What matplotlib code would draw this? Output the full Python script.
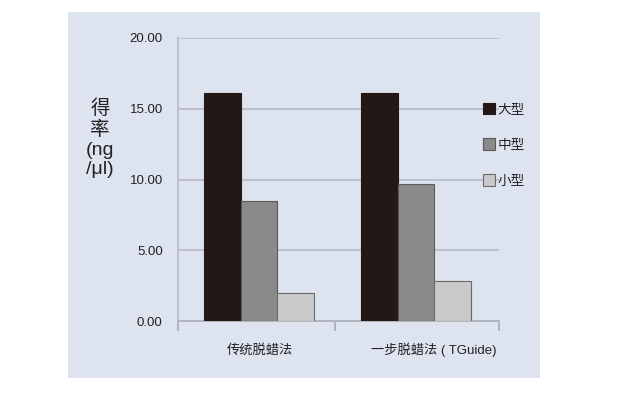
import matplotlib
matplotlib.use("Agg")
import matplotlib.pyplot as plt
from matplotlib.patches import Rectangle
from matplotlib.transforms import blended_transform_factory
import numpy as np

categories = ["传统脱蜡法", "一步脱蜡法 ( TGuide)"]
series_names = ["大型", "中型", "小型"]
large = [16.1, 16.1]
medium = [8.45, 9.65]
small = [1.98, 2.83]
yticks = [0, 5, 10, 15, 20]

plt.rcParams['font.family'] = ['Liberation Sans', 'Noto Sans CJK SC', 'DejaVu Sans']

fig = plt.figure(figsize=(6.18, 3.97), dpi=100)
fig.patch.set_facecolor("white")
bg = Rectangle((68/618, 19/397), (540-68)/618, (378-12)/397,
               transform=fig.transFigure, facecolor="#dde3ef",
               edgecolor="none", zorder=-5)
fig.add_artist(bg)

ax = fig.add_axes([178/618, 76/397, (499-178)/618, (321-38)/397])
ax.set_facecolor("none")
ax.set_zorder(2)

x = np.arange(len(categories))
w = 0.234
colors = ["#231815", "#8a8a8a", "#c9c9c9"]
edges = ["#231815", "#5a5a5a", "#6a6a6a"]
for i, (vals, name) in enumerate(zip([large, medium, small], series_names)):
    ax.bar(x + (i - 1) * w + 0.016, vals, width=w, color=colors[i], edgecolor=edges[i],
           linewidth=0.8, label=name, zorder=3)

xmax = 1.545
ax.set_xlim(-0.5, xmax)
ax.set_ylim(0, 20)
ax.set_yticks(yticks)
ax.set_yticklabels([f"{v:.2f}" for v in yticks], fontsize=9.5, color="#222222")
ax.yaxis.grid(True, color="#bcc0c8", linewidth=1.4, zorder=0)
ax.set_axisbelow(True)
ax.tick_params(axis='y', length=0, pad=11)

ax.set_xticks([-0.5, 0.5, xmax])
ax.set_xticklabels([])
ax.tick_params(axis='x', which='major', length=7, color="#b0b4bc", width=1.4, direction='out')

trans = blended_transform_factory(ax.transData, ax.transAxes)
label_offsets = [0.02, 0.13]
for xi, lab, off in zip(x, categories, label_offsets):
    ax.text(xi + off, -0.1025, lab, transform=trans, ha="center", va="center",
            fontsize=9.5, color="#222222")

for s in ["top", "right"]:
    ax.spines[s].set_visible(False)
ax.spines["left"].set_color("#bcc0c8")
ax.spines["left"].set_linewidth(1.4)
ax.spines["bottom"].set_color("#b0b4bc")
ax.spines["bottom"].set_linewidth(1.4)

fig.text(100/618, 1 - 139/397, "得\n率\n(ng\n/μl)", fontsize=14, ha="center",
         va="center", linespacing=1.2, color="#222222")

leg = ax.legend(frameon=False, loc="upper left", bbox_to_anchor=(483/618, 1 - 102/397),
                bbox_transform=fig.transFigure, fontsize=9.8, handlelength=0.9,
                handleheight=0.9, handletextpad=0.15, labelspacing=1.6,
                borderpad=0, borderaxespad=0)
for t in leg.get_texts():
    t.set_color("#222222")

fig.savefig("out.png", dpi=100)
